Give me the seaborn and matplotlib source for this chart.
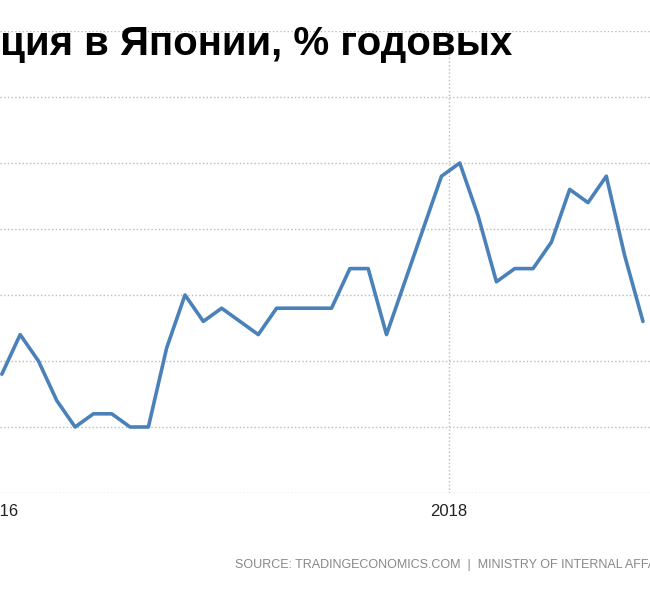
import numpy as np
import pandas as pd
import seaborn as sns
import matplotlib.pyplot as plt

months = pd.date_range('2016-01-01', periods=36, freq='MS')
inflation = [-0.1, 0.2, 0.0, -0.3, -0.5, -0.4, -0.4, -0.5, -0.5, 0.1, 0.5, 0.3,
             0.4, 0.3, 0.2, 0.4, 0.4, 0.4, 0.4, 0.7, 0.7, 0.2, 0.6, 1.0,
             1.4, 1.5, 1.1, 0.6, 0.7, 0.7, 0.9, 1.3, 1.2, 1.4, 0.8, 0.3]
year_ticks = ['2016', '2018']

df = pd.DataFrame({'idx': np.arange(len(months)), 'val': inflation})

sns.set_theme(style="white")
plt.rcParams['font.family'] = ['Liberation Sans', 'DejaVu Sans']

fig = plt.figure(figsize=(6.5, 6), dpi=100)
ax = fig.add_axes([0, 107 / 600, 1, 462 / 600])
sns.lineplot(data=df, x='idx', y='val', ax=ax, color='#4a81b8', linewidth=2.6)

ax.set_xlim(0.25, 0.25 + 650 / 18.5)
ax.set_ylim(-1.0, 2.5)
ax.set_yticks(np.arange(-1.0, 2.51, 0.5))
ax.set_yticklabels([])
ax.tick_params(axis='y', length=0)
ax.set_xticks([-0.1, 24.4])
ax.set_xticklabels(year_ticks, fontsize=12, color='#222222')
ax.tick_params(axis='x', length=0, pad=8)
ax.grid(axis='y', linestyle=':', color='#bbbbbb', linewidth=1)
ax.axvline(24.4, linestyle=':', color='#bbbbbb', linewidth=1, zorder=0)
for s in ax.spines.values():
    s.set_visible(False)
ax.set_xlabel('')
ax.set_ylabel('')

# title is cut at the left edge in the reference: shift so "ция" starts at x=0
renderer = fig.canvas.get_renderer()
probe = fig.text(0, 0, 'Инфля', fontsize=29, fontweight='bold')
prefix_w = probe.get_window_extent(renderer).width
probe.remove()
fig.text(-prefix_w / 650, 1 - 55 / 600, 'Инфляция в Японии, % годовых', fontsize=29,
         fontweight='bold', color='black', va='baseline', ha='left')
fig.text(235 / 650, 1 - 568 / 600, 'SOURCE: TRADINGECONOMICS.COM  |  MINISTRY OF INTERNAL AFFAIRS',
         fontsize=9, color='#888888', ha='left', va='baseline')

fig.savefig('out.png', dpi=100)
